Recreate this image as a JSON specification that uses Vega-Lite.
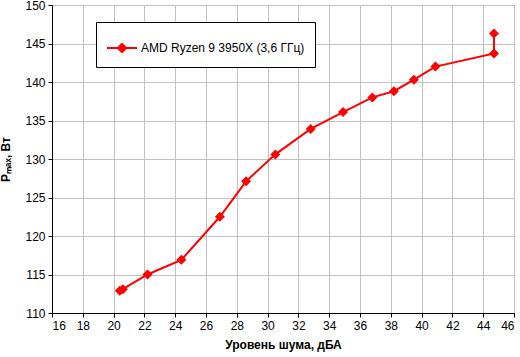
{
  "$schema": "https://vega.github.io/schema/vega-lite/v6.json",
  "width": 462,
  "height": 308,
  "autosize": {"type": "none"},
  "padding": {"left": 52, "top": 5, "right": 6, "bottom": 44},
  "background": "white",
  "config": {
    "font": "Liberation Sans",
    "view": {"stroke": "#a0a0a0", "strokeWidth": 1},
    "axis": {
      "labelFont": "Liberation Sans",
      "labelFontSize": 12,
      "labelColor": "black",
      "titleFont": "Liberation Sans",
      "titleFontSize": 12,
      "titleFontWeight": "bold",
      "titleColor": "black",
      "gridColor": "#c0c0c0",
      "gridOpacity": 1,
      "gridWidth": 1,
      "domainColor": "black",
      "tickColor": "black",
      "tickSize": 4
    }
  },
  "data": {
    "values": [
      {"order": 1, "x": 20.4, "y": 112.9, "series": "AMD Ryzen 9 3950X (3,6 ГГц)"},
      {"order": 2, "x": 20.6, "y": 113.1, "series": "AMD Ryzen 9 3950X (3,6 ГГц)"},
      {"order": 3, "x": 22.2, "y": 115.0, "series": "AMD Ryzen 9 3950X (3,6 ГГц)"},
      {"order": 4, "x": 24.4, "y": 116.9, "series": "AMD Ryzen 9 3950X (3,6 ГГц)"},
      {"order": 5, "x": 26.9, "y": 122.5, "series": "AMD Ryzen 9 3950X (3,6 ГГц)"},
      {"order": 6, "x": 28.6, "y": 127.1, "series": "AMD Ryzen 9 3950X (3,6 ГГц)"},
      {"order": 7, "x": 30.5, "y": 130.6, "series": "AMD Ryzen 9 3950X (3,6 ГГц)"},
      {"order": 8, "x": 32.8, "y": 133.9, "series": "AMD Ryzen 9 3950X (3,6 ГГц)"},
      {"order": 9, "x": 34.9, "y": 136.1, "series": "AMD Ryzen 9 3950X (3,6 ГГц)"},
      {"order": 10, "x": 36.8, "y": 138.0, "series": "AMD Ryzen 9 3950X (3,6 ГГц)"},
      {"order": 11, "x": 38.2, "y": 138.8, "series": "AMD Ryzen 9 3950X (3,6 ГГц)"},
      {"order": 12, "x": 39.5, "y": 140.3, "series": "AMD Ryzen 9 3950X (3,6 ГГц)"},
      {"order": 13, "x": 40.9, "y": 142.0, "series": "AMD Ryzen 9 3950X (3,6 ГГц)"},
      {"order": 14, "x": 44.7, "y": 143.7, "series": "AMD Ryzen 9 3950X (3,6 ГГц)"},
      {"order": 15, "x": 44.7, "y": 146.3, "series": "AMD Ryzen 9 3950X (3,6 ГГц)"}
    ]
  },
  "encoding": {
    "x": {
      "field": "x", "type": "quantitative",
      "scale": {"domain": [16, 46], "nice": false, "zero": false},
      "axis": {"values": [16,18,20,22,24,26,28,30,32,34,36,38,40,42,44,46], "title": "Уровень шума, дБА", "titlePadding": 8, "labelPadding": 3}
    },
    "y": {
      "field": "y", "type": "quantitative",
      "scale": {"domain": [110, 150], "nice": false, "zero": false},
      "axis": {"values": [110,115,120,125,130,135,140,145,150], "title": "Pₘₐₓ, Вт", "titlePadding": 12, "labelPadding": 3}
    },
    "order": {"field": "order", "type": "quantitative"}
  },
  "layer": [
    {
      "mark": {"type": "line", "strokeWidth": 2},
      "encoding": {
        "color": {
          "field": "series", "type": "nominal",
          "scale": {"range": ["#ff0000"]},
          "legend": {
            "title": null,
            "orient": "none",
            "legendX": 44,
            "legendY": 17,
            "padding": 10,
            "strokeColor": "black",
            "fillColor": "white",
            "symbolType": "M-1,0H1M0,-0.27L0.27,0L0,0.27L-0.27,0Z",
            "symbolSize": 900,
            "symbolStrokeWidth": 2,
            "symbolFillColor": "#ff0000",
            "symbolStrokeColor": "#ff0000",
            "symbolOpacity": 1,
            "labelFont": "Liberation Sans",
            "labelFontSize": 12,
            "labelColor": "black",
            "labelOffset": 3,
            "labelLimit": 400
          }
        }
      }
    },
    {
      "mark": {"type": "point", "shape": "diamond", "size": 100, "filled": true, "color": "#ff0000", "opacity": 1}
    }
  ]
}
